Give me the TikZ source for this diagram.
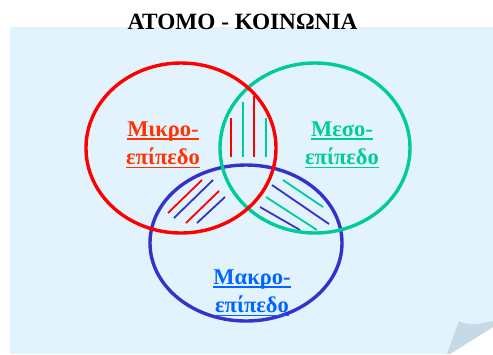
\documentclass[tikz,border=0pt]{standalone}
\usepackage{fontspec}
\setmainfont{Liberation Serif}
\definecolor{paper}{HTML}{E3F3FE}
\definecolor{curl}{HTML}{C6D9E6}
\definecolor{mikro}{HTML}{FF0000}
\definecolor{meso}{HTML}{00CC99}
\definecolor{makro}{HTML}{3333CC}
\definecolor{mikrotext}{HTML}{FF3300}
\definecolor{makrotext}{HTML}{0066FF}
\newcommand{\lvlrule}[1]{\setbox0=\hbox{#1}\rlap{\rule[-3.5bp]{\wd0}{1.7bp}}\box0}

\begin{document}
\begin{tikzpicture}[x=1bp,y=-1bp,
    ring/.style={line width=3.4bp},
    hatch/.style={line width=1.8bp},
    level/.style={font=\bfseries\fontsize{22.5bp}{28.5bp}\selectfont,align=center,inner sep=0pt}]
  \useasboundingbox (0,0) rectangle (493,354);
  % paper with curled corner
  \fill[paper] (10,27) rectangle (493,354);
  \fill[white] (493,327) -- (493,354) -- (450,354) -- cycle;
  \fill[curl] (459,321) .. controls (468,326) and (480,324) .. (493,321)
    -- (493,327) -- (450,354) -- (447,354) -- cycle;

  % hatching in the overlaps
  \draw[hatch,mikro] (231,118) -- (231,157);
  \draw[hatch,meso]  (243,102) -- (243,157);
  \draw[hatch,mikro] (254,96) -- (254,157);
  \draw[hatch,meso]  (266,118) -- (266,157);

  \draw[hatch,mikro] (168,213) -- (202,180);
  \draw[hatch,makro] (174,218) -- (213,180);
  \draw[hatch,mikro] (186,223) -- (219,191);
  \draw[hatch,makro] (197,223) -- (225,197);

  \draw[hatch,meso]  (283,180) -- (323,207);
  \draw[hatch,makro] (272,185) -- (329,224);
  \draw[hatch,meso]  (266,197) -- (317,230);
  \draw[hatch,makro] (260,207) -- (300,230);

  % the three levels
  \draw[ring,makro] (246,243) ellipse [x radius=96bp, y radius=78bp];
  \draw[ring,meso]  (315,148) ellipse [x radius=95bp, y radius=85bp];
  \draw[ring,mikro] (181,148) ellipse [x radius=95bp, y radius=85bp];

  \node[level,text=mikrotext] (mikrolbl) at (163,145) {\lvlrule{Μικρο-}\\\lvlrule{επίπεδο}};
  \node[level,text=meso] (mesolbl) at (342,145) {\lvlrule{Μεσο-}\\\lvlrule{επίπεδο}};
  \node[level,text=makrotext] (makrolbl) at (252,293) {\lvlrule{Μακρο-}\\\lvlrule{επίπεδο}};

  \node[font=\bfseries\fontsize{23.3bp}{26bp}\selectfont,anchor=base,inner sep=0pt] (title) at (242.5,29) {ΑΤΟΜΟ - ΚΟΙΝΩΝΙΑ};
\end{tikzpicture}
\end{document}
